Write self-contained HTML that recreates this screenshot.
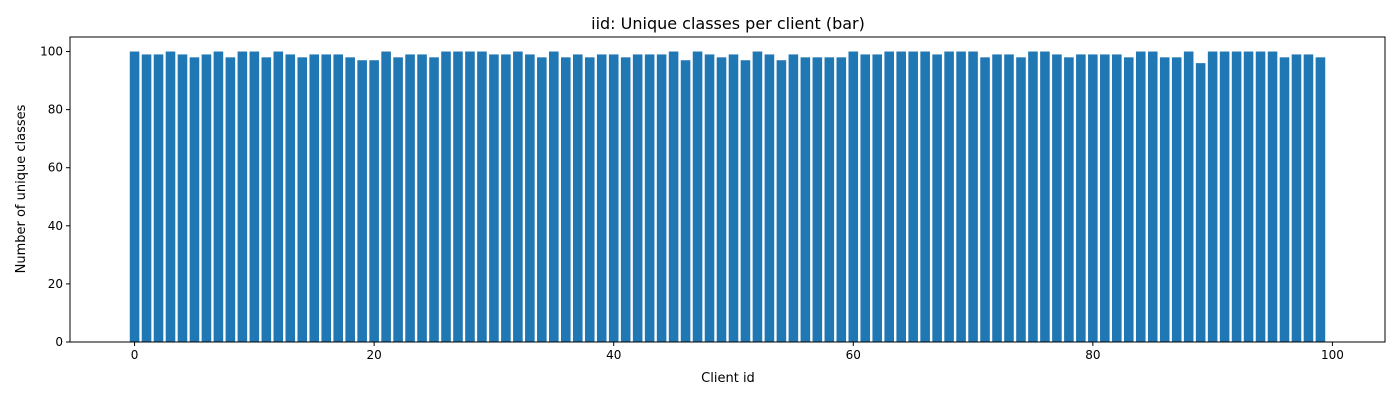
<!DOCTYPE html>
<html><head><meta charset="utf-8"><style>
body{margin:0;background:#fff;font-family:"Liberation Sans","DejaVu Sans",sans-serif;}
svg text{font-family:"DejaVu Sans","Liberation Sans",sans-serif;fill:#000;}
</style></head><body>
<svg id="c" width="1400" height="400" xmlns="http://www.w3.org/2000/svg">
<rect width="1400" height="400" fill="#fff"/>
<text x="728" y="29" font-size="16" text-anchor="middle">iid: Unique classes per client (bar)</text>
<text x="728" y="382" font-size="13" text-anchor="middle">Client id</text>
<text transform="translate(25,189) rotate(-90)" font-size="13" text-anchor="middle">Number of unique classes</text>
<g id="bars"></g><g id="axes"></g>
</svg>
<script>
const values=[100,99,99,100,99,98,99,100,98,100,100,98,100,99,98,99,99,99,98,97,97,100,98,99,99,98,100,100,100,100,99,99,100,99,98,100,98,99,98,99,99,98,99,99,99,100,97,100,99,98,99,97,100,99,97,99,98,98,98,98,100,99,99,100,100,100,100,99,100,100,100,98,99,99,98,100,100,99,98,99,99,99,99,98,100,100,98,98,100,96,100,100,100,100,100,100,98,99,99,98];
const xTicks=[0,20,40,60,80,100];
const yTicks=[0,20,40,60,80,100];
const L=70,R=1385,T=37,B=342;
const xmin=-0.4-0.05*(values.length-0.2),xmax=values.length-1+0.4+0.05*(values.length-0.2);
const ymax=Math.max(...values)*1.05;
const sx=v=>L+(v-xmin)/(xmax-xmin)*(R-L);
const sy=v=>B-v/ymax*(B-T);
const NS="http://www.w3.org/2000/svg";
const bars=document.getElementById('bars'),axes=document.getElementById('axes');
values.forEach((v,i)=>{
 const r=document.createElementNS(NS,'rect');
 r.setAttribute('x',sx(i-0.4));r.setAttribute('width',sx(i+0.4)-sx(i-0.4));
 r.setAttribute('y',sy(v));r.setAttribute('height',B-sy(v));r.setAttribute('fill','#1f77b4');
 
 
 bars.appendChild(r);
});
const frame=document.createElementNS(NS,'rect');
frame.setAttribute('x',L);frame.setAttribute('y',T);frame.setAttribute('width',R-L);frame.setAttribute('height',B-T);
frame.setAttribute('fill','none');frame.setAttribute('stroke','#000');frame.setAttribute('stroke-width','1');


axes.appendChild(frame);
xTicks.forEach(t=>{
 const x=sx(t);
 const l=document.createElementNS(NS,'line');
 l.setAttribute('x1',x);l.setAttribute('x2',x);l.setAttribute('y1',B);l.setAttribute('y2',B+4);l.setAttribute('stroke','#000');
 
 
 axes.appendChild(l);
 const tx=document.createElementNS(NS,'text');
 tx.setAttribute('x',x);tx.setAttribute('y',B+17);tx.setAttribute('font-size','12');tx.setAttribute('text-anchor','middle');
 tx.textContent=t;
 
 
 axes.appendChild(tx);
});
yTicks.forEach(t=>{
 const y=sy(t);
 const l=document.createElementNS(NS,'line');
 l.setAttribute('x1',L-4);l.setAttribute('x2',L);l.setAttribute('y1',y);l.setAttribute('y2',y);l.setAttribute('stroke','#000');
 
 
 axes.appendChild(l);
 const tx=document.createElementNS(NS,'text');
 tx.setAttribute('x',L-7);tx.setAttribute('y',y+4);tx.setAttribute('font-size','12');tx.setAttribute('text-anchor','end');
 tx.textContent=t;
 
 
 axes.appendChild(tx);
});
</script>
</body></html>
